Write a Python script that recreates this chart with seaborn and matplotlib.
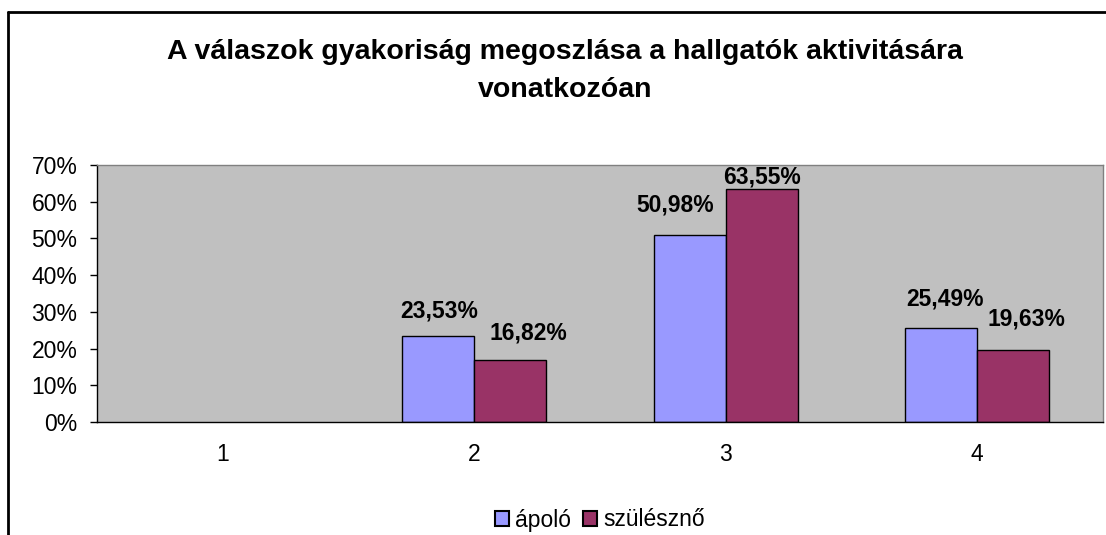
import numpy as np
import pandas as pd
import matplotlib
matplotlib.use("Agg")
import matplotlib.pyplot as plt
from matplotlib.patches import Patch
from matplotlib.lines import Line2D
import seaborn as sns

categories = ["1", "2", "3", "4"]
series_names = ["ápoló", "szülésznő"]
apolo = [np.nan, 23.53, 50.98, 25.49]
szulesznő = [np.nan, 16.82, 63.55, 19.63]
ytick_labels = ["0%", "10%", "20%", "30%", "40%", "50%", "60%", "70%"]
colors = ["#9999FF", "#993366"]

# label offsets (dx, dy) in pixels relative to bar top centre, per series / category
label_offsets = [
    [(0, 0), (1, 13), (-15, 18), (4, 18)],
    [(0, 0), (18, 16), (0, 0), (13, 19)],
]

df = pd.DataFrame({
    "cat": categories * 2,
    "series": [series_names[0]] * 4 + [series_names[1]] * 4,
    "val": apolo + szulesznő,
})

sns.set_style("white")
plt.rcParams["font.family"] = ["Liberation Sans", "DejaVu Sans"]
plt.rcParams["text.color"] = "black"
plt.rcParams["xtick.color"] = "black"
plt.rcParams["ytick.color"] = "black"
plt.rcParams["axes.labelcolor"] = "black"

fig = plt.figure(figsize=(11.06, 5.35), dpi=100)
ax = fig.add_axes([97 / 1106, 1 - 422 / 535, (1103 - 97) / 1106, (422 - 165) / 535])
ax.set_facecolor("#C0C0C0")

sns.barplot(data=df, x="cat", y="val", hue="series", order=categories,
            hue_order=series_names, palette=colors, width=0.574, gap=0,
            edgecolor="black", linewidth=1.0, saturation=1, legend=False, ax=ax)

px = 72 / 100
for si, cont in enumerate(ax.containers):
    for bar in cont.patches:
        v = bar.get_height()
        if np.isnan(v):
            continue
        xc = bar.get_x() + bar.get_width() / 2
        ci = int(round(xc))
        dx, dy = label_offsets[si][ci]
        ax.annotate(f"{v:.2f}".replace(".", ",") + "%",
                    xy=(xc, v),
                    xytext=(dx * px, dy * px), textcoords="offset points",
                    ha="center", va="bottom", fontsize=16.5, fontweight="bold",
                    annotation_clip=False)

ax.set_xlim(-0.5, 3.5)
ax.set_ylim(0, 70)
ax.set_yticks(np.arange(0, 71, 10))
ax.set_yticklabels(ytick_labels, fontsize=16.5)
ax.set_xlabel("")
ax.set_ylabel("")
ax.tick_params(axis="x", which="major", length=0, labelsize=16.5, pad=15)
ax.set_xticks(np.arange(-0.5, 4, 1), minor=True)
ax.tick_params(axis="x", which="minor", length=5, width=1, color="black", direction="out")
ax.tick_params(axis="y", length=5, width=1, color="black", direction="out", left=True, pad=9)
for s in ["top", "right"]:
    ax.spines[s].set_color("#808080")
    ax.spines[s].set_linewidth(1)
for s in ["left", "bottom"]:
    ax.spines[s].set_color("black")
    ax.spines[s].set_linewidth(1)

fig.text(565 / 1106, 1 - 52 / 535, "A válaszok gyakoriság megoszlása a hallgatók aktivitására",
         ha="center", va="center", fontsize=20.5, fontweight="bold")
fig.text(565 / 1106, 1 - 90 / 535, "vonatkozóan",
         ha="center", va="center", fontsize=20.5, fontweight="bold")

handles = [Patch(facecolor=c, edgecolor="black", linewidth=1.5) for c in colors]
fig.legend(handles, series_names, loc="center", bbox_to_anchor=(600 / 1106, 1 - 520 / 535),
           ncol=2, frameon=False, fontsize=16.5, handlelength=0.6, handleheight=0.6,
           handletextpad=0.3, columnspacing=0.5)

fig.add_artist(Line2D([8 / 1106, 8 / 1106], [0, 1 - 12 / 535], transform=fig.transFigure,
                      color="black", linewidth=2))
fig.add_artist(Line2D([8 / 1106, 1], [1 - 12 / 535, 1 - 12 / 535], transform=fig.transFigure,
                      color="black", linewidth=2))

fig.savefig("out.png", dpi=100)
